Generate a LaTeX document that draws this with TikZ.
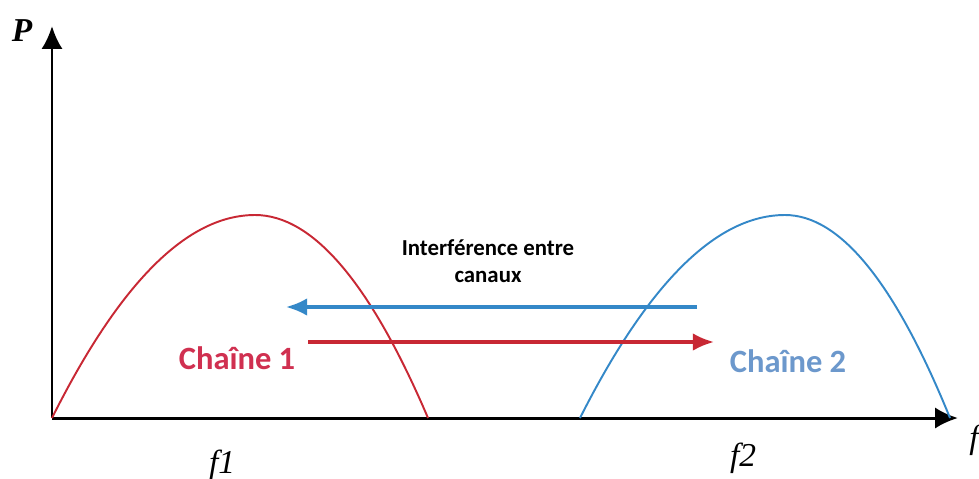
\documentclass[tikz,border=0pt]{standalone}
\usepackage{fontspec}
\setmainfont{Liberation Serif}
\newfontfamily\carlito{Carlito}
\usetikzlibrary{arrows.meta,positioning}

\definecolor{chainred}{RGB}{200,40,52}
\definecolor{chainblue}{RGB}{52,136,200}
\definecolor{txtred}{RGB}{208,48,80}
\definecolor{txtblue}{RGB}{108,152,204}

\tikzstyle{axis} = [line width=1.7pt,-{Latex[length=13pt,width=12pt]}]
\tikzstyle{arrow} = [line width=1.8pt,-{Latex[length=12pt,width=10pt]}]
\tikzstyle{curve} = [line width=1.1pt]
\tikzstyle{label} = [font=\carlito\bfseries\fontsize{18.5}{20}\selectfont]
\tikzstyle{axlabel} = [font=\itshape\fontsize{19}{21}\selectfont]

\begin{document}
\begin{tikzpicture}[x=0.02cm,y=-0.02cm]
\useasboundingbox (0,0) rectangle (979,478);

% axes
\coordinate (O) at (52,418);
\coordinate (ytop) at (52,26);
\coordinate (xend) at (958,418);
\draw [axis] (O) -- (ytop);
\draw [axis] (O) -- (xend);
\node (P) at (22,31) [axlabel] {\bfseries P};
\node (f) at (974,440) [axlabel] {f};
\node (f1) at (222,465) [axlabel] {f1};
\node (f2) at (743,458) [axlabel] {f2};

% channel spectra
\draw [curve, chainred] (52,418) .. controls (119.7,282.7) and (187.3,215) .. (255,215)
  .. controls (312.7,215) and (370.3,282.7) .. (428,418);
\draw [curve, chainblue] (580,418) .. controls (648.3,282.7) and (716.7,215) .. (785,215)
  .. controls (840,215) and (895,282.7) .. (950,418);

% interference arrows
\coordinate (b1) at (697,307);
\coordinate (b2) at (286,307);
\coordinate (r1) at (308,342);
\coordinate (r2) at (714,342);
\draw [arrow, chainblue] (b1) -- (b2);
\draw [arrow, chainred] (r1) -- (r2);

\node (inter) at (488,261) [align=center, font=\carlito\bfseries\fontsize{13}{15.5}\selectfont] {Interférence entre\\canaux\hspace{2em}};
\node (ch1) at (237,358) [label, txtred] {Chaîne 1};
\node (ch2) at (788,361) [label, txtblue] {Chaîne 2};

\end{tikzpicture}
\end{document}
